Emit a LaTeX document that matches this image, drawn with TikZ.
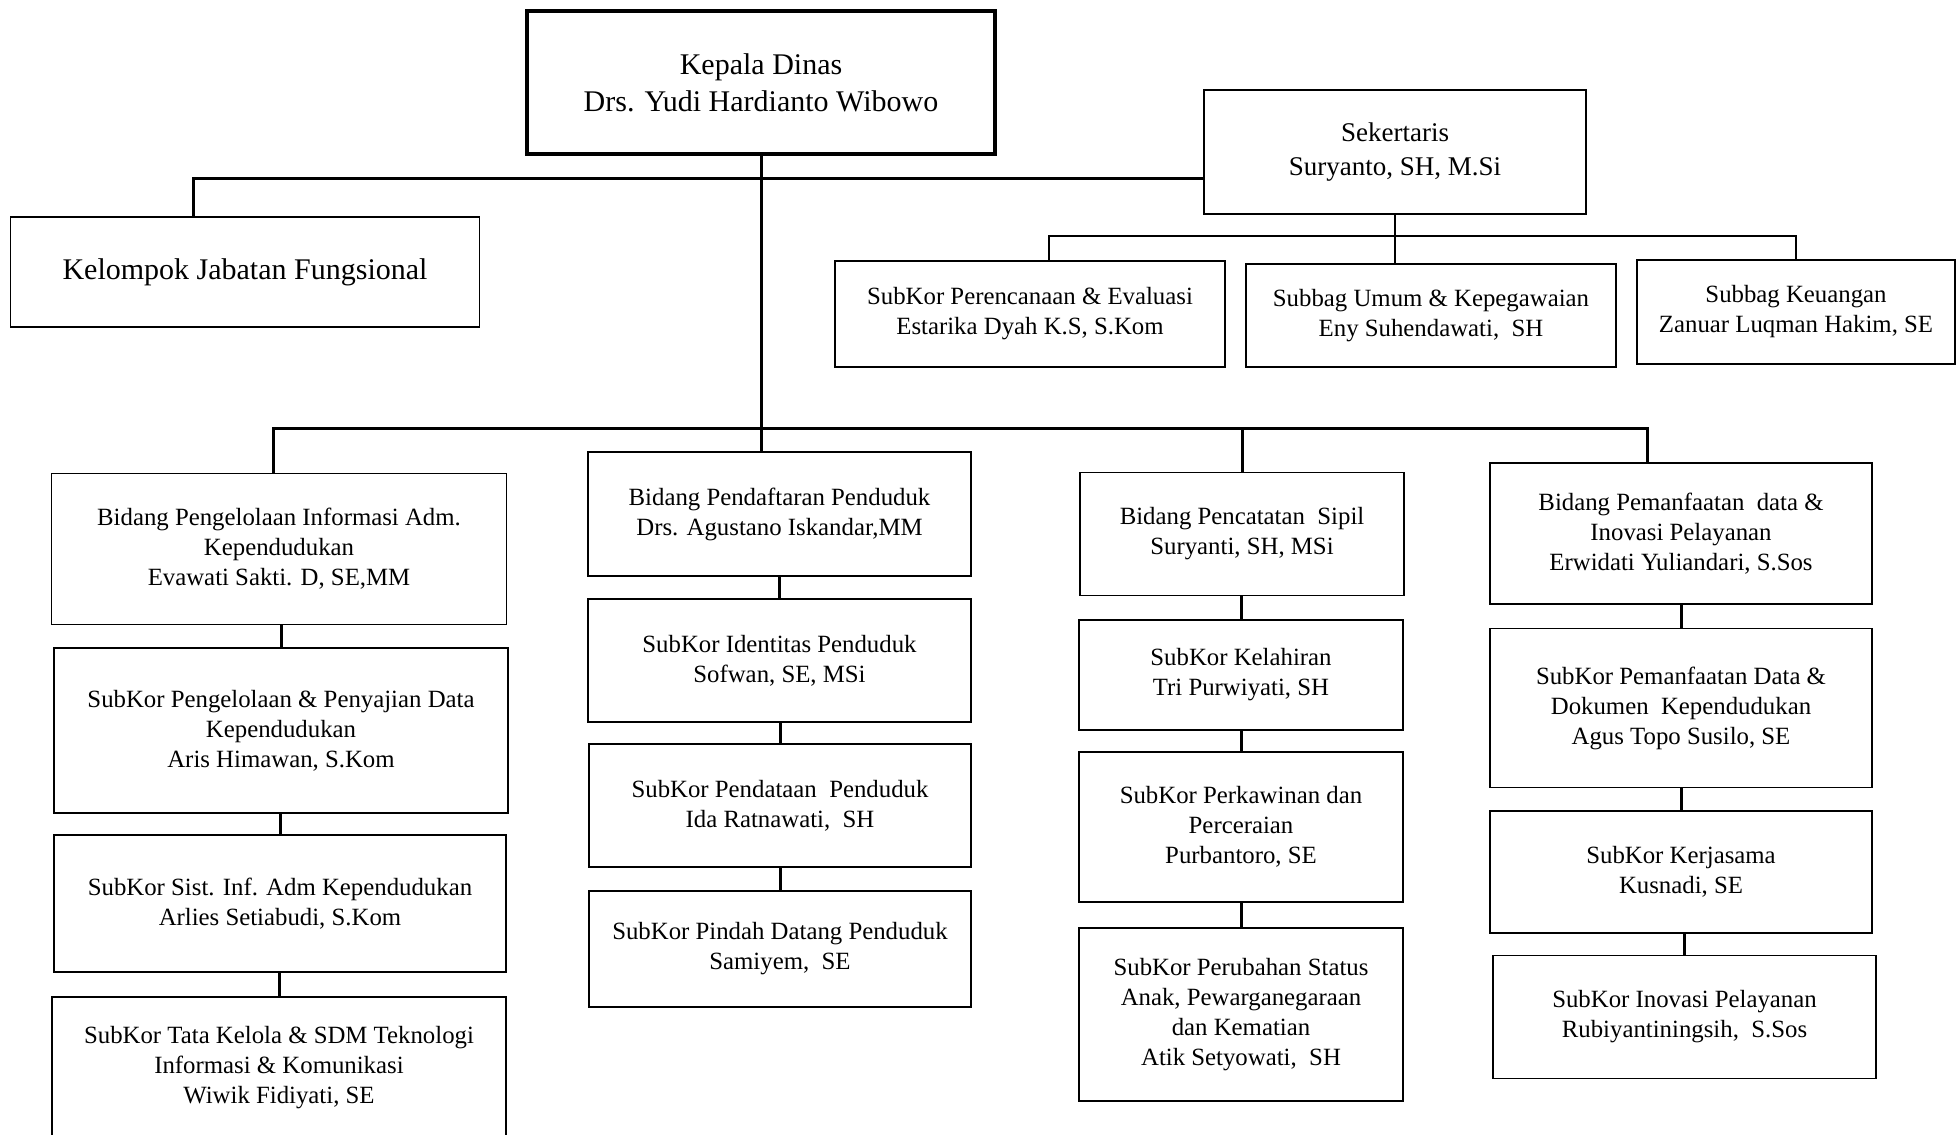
\documentclass[tikz,border=0pt]{standalone}
\usepackage{fontspec}
\setmainfont{Liberation Serif}
\usepackage{tikz}

\begin{document}
\begin{tikzpicture}[x=0.5pt,y=-0.5pt]
\tikzstyle{unit}=[draw,line width=0.9pt,align=center,inner sep=2pt,font=\fontsize{12.4}{15}\selectfont]
\tikzstyle{link}=[line width=1.5pt]
\clip (0,0) rectangle (1957,1134);

\node[unit,line width=2pt,minimum width=234pt,minimum height=71.5pt,font=\fontsize{15}{18.5}\selectfont] (kepala) at (761,82.5) {Kepala Dinas\\Drs. Yudi Hardianto Wibowo};
\node[unit,minimum width=234.5pt,minimum height=55pt,font=\fontsize{15}{18.5}\selectfont] (kjf) at (245,272) {Kelompok Jabatan Fungsional};
\node[unit,minimum width=191pt,minimum height=62pt,font=\fontsize{13.5}{17}\selectfont] (sekr) at (1395,152) {Sekertaris\\Suryanto, SH, M.Si};

\node[unit,minimum width=195pt,minimum height=53pt] (renc) at (1030,314) {SubKor Perencanaan \& Evaluasi\\Estarika Dyah K.S, S.Kom};
\node[unit,minimum width=185pt,minimum height=51.5pt] (umum) at (1431,315.5) {Subbag Umum \& Kepegawaian\\Eny Suhendawati,\ \ SH};
\node[unit,minimum width=159pt,minimum height=52pt] (keu) at (1796,312) {Subbag Keuangan\\Zanuar Luqman Hakim, SE};

\node[unit,minimum width=227.5pt,minimum height=75.5pt] (pia) at (279,549) {Bidang Pengelolaan Informasi Adm.\\Kependudukan\\Evawati Sakti. D, SE,MM};
\node[unit,minimum width=227pt,minimum height=82.5pt] (pia1) at (281,730.5) {SubKor Pengelolaan \& Penyajian Data\\Kependudukan\\Aris Himawan, S.Kom};
\node[unit,minimum width=226pt,minimum height=68.5pt] (pia2) at (280,903.5) {SubKor Sist. Inf. Adm Kependudukan\\Arlies Setiabudi, S.Kom};
\node[unit,minimum width=227pt,minimum height=71pt] (pia3) at (279,1068) {SubKor Tata Kelola \& SDM Teknologi\\Informasi \& Komunikasi\\Wiwik Fidiyati, SE};

\node[unit,minimum width=191.5pt,minimum height=62pt] (daf) at (779.5,514) {Bidang Pendaftaran Penduduk\\Drs. Agustano Iskandar,MM};
\node[unit,minimum width=191.5pt,minimum height=61.5pt] (daf1) at (779.5,660.5) {SubKor Identitas Penduduk\\Sofwan, SE, MSi};
\node[unit,minimum width=191pt,minimum height=61.5pt] (daf2) at (780,805.5) {SubKor Pendataan\ \ Penduduk\\Ida Ratnawati,\ \ SH};
\node[unit,minimum width=191pt,minimum height=58pt] (daf3) at (780,949) {SubKor Pindah Datang Penduduk\\Samiyem,\ \ SE};

\node[unit,minimum width=162pt,minimum height=61.5pt] (capil) at (1242,534) {Bidang Pencatatan\ \ Sipil\\Suryanti, SH, MSi};
\node[unit,minimum width=162pt,minimum height=55pt] (capil1) at (1241,675) {SubKor Kelahiran\\Tri Purwiyati, SH};
\node[unit,minimum width=162pt,minimum height=75pt] (capil2) at (1241,827) {SubKor Perkawinan dan\\Perceraian\\Purbantoro, SE};
\node[unit,minimum width=162pt,minimum height=86.5pt] (capil3) at (1241,1014.5) {SubKor Perubahan Status\\Anak, Pewarganegaraan\\dan Kematian\\Atik Setyowati,\ \ SH};

\node[unit,minimum width=191pt,minimum height=70.5pt] (pdip) at (1681,533.5) {Bidang Pemanfaatan\ \ data \&\\Inovasi Pelayanan\\Erwidati Yuliandari, S.Sos};
\node[unit,minimum width=191pt,minimum height=79.5pt] (pdip1) at (1681,708) {SubKor Pemanfaatan Data \&\\Dokumen\ \ Kependudukan\\Agus Topo Susilo, SE};
\node[unit,minimum width=191pt,minimum height=61pt] (pdip2) at (1681,871.7) {SubKor Kerjasama\\Kusnadi, SE};
\node[unit,minimum width=191.5pt,minimum height=61.5pt] (pdip3) at (1684.5,1017) {SubKor Inovasi Pelayanan\\Rubiyantiningsih,\ \ S.Sos};

% top bar
\coordinate (kjfdrop) at (193,179);
\draw[link] (kepala.south) -- (kepala.south |- daf.north);
\draw[link] (kjfdrop |- kjf.north) -- (kjfdrop) -- (kjfdrop -| sekr.west);

% sekretariat
\coordinate (sl) at (1049,236);
\coordinate (sr) at (1796,236);
\draw[line width=1.2pt] (sl |- renc.north) -- (sl) -- (sr) -- (sr |- keu.north);
\draw[line width=1.2pt] (sekr.south) -- (sekr.south |- umum.north);

% bidang
\coordinate (ml) at (273,428);
\coordinate (mr) at (1647,428);
\draw[link] (ml |- pia.north) -- (ml) -- (mr) -- (mr |- pdip.north);
\draw[link] (capil.north) -- (capil.north |- ml);

\foreach \a/\b in {pia/pia1,pia1/pia2,pia2/pia3,daf/daf1,daf1/daf2,daf2/daf3,capil/capil1,capil1/capil2,capil2/capil3,pdip/pdip1,pdip1/pdip2,pdip2/pdip3}
  \draw[link] (\b.north) -- (\b.north |- \a.south);
\end{tikzpicture}
\end{document}
